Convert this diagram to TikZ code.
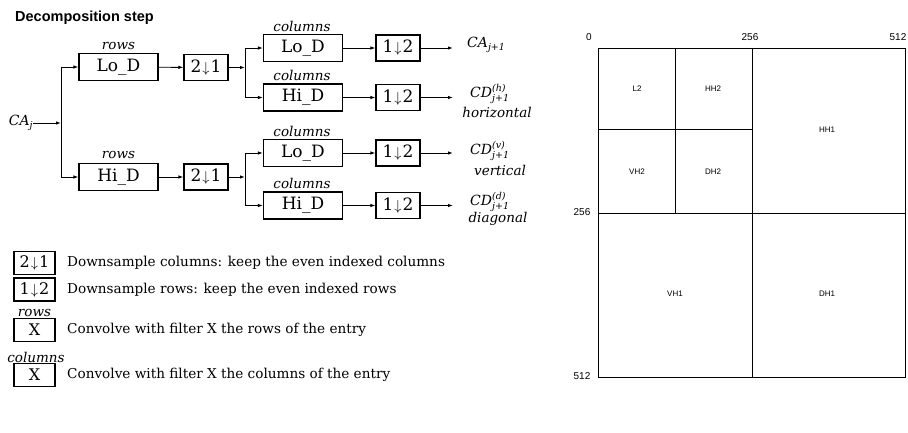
\documentclass[tikz,border=0pt]{standalone}
\usepackage{fontspec}
\setmainfont{DejaVu Serif}
\newfontfamily\arial{Liberation Sans}
\usetikzlibrary{arrows.meta}
\newcommand{\dn}[2]{#1\hspace{1pt}{\fontsize{15}{15}\selectfont$\downarrow$}\hspace{1pt}#2}
\newcommand{\smi}[1]{\mbox{\fontsize{9.5}{9.5}\selectfont\itshape #1}}
\newcommand{\outlab}[3]{#1$^{\smi{#2}}_{\smi{#3}}$}
\begin{document}
\begin{tikzpicture}[x=1pt,y=-1pt,
  box/.style={draw,line width=1.1pt,minimum width=79pt,minimum height=27pt,inner sep=0pt,font=\fontsize{17}{17}\selectfont},
  dbox/.style={draw,line width=1.1pt,minimum width=44pt,minimum height=26pt,inner sep=0pt,font=\fontsize{17}{17}\selectfont},
  lgbox/.style={draw,line width=1.1pt,minimum width=41pt,minimum height=23pt,inner sep=0pt,font=\fontsize{16}{16}\selectfont},
  lbl/.style={font=\fontsize{13.5}{13.5}\selectfont\itshape,inner sep=0pt},
  mlbl/.style={font=\fontsize{14}{14}\selectfont\itshape,inner sep=0pt},
  lgtxt/.style={font=\fontsize{13.6}{13.6}\selectfont,inner sep=0pt,anchor=west},
  arr/.style={-{Latex[length=5pt,width=3.5pt]},line width=0.9pt},
  ln/.style={line width=0.9pt},
  grid/.style={line width=0.8pt},
  ax/.style={font=\arial\fontsize{10}{10}\selectfont,inner sep=0pt},
  cell/.style={font=\arial\fontsize{8}{8}\selectfont,inner sep=0pt}
]
\useasboundingbox (0,0) rectangle (908,433);
% title
\node[font=\arial\bfseries\fontsize{14.5}{14.5}\selectfont,anchor=west,inner sep=0pt] (title) at (15,18) {Decomposition step};
% input
\node[mlbl] (caj) at (21,123) {\outlab{CA}{}{j}};
\coordinate (s0t) at (61,67);
\coordinate (s0m) at (61,123);
\coordinate (s0b) at (61,177);
% row filters
\node[box] (rlo) at (118.5,67) {Lo\_D};
\node[lbl] (rlol) at (118.5,46) {rows};
\node[box] (rhi) at (118.5,177) {Hi\_D};
\node[lbl] (rhil) at (118.5,155) {rows};
\node[dbox] (d1) at (206,67.5) {\dn{2}{1}};
\node[dbox] (d2) at (206,177) {\dn{2}{1}};
\coordinate (s1m) at (245,67.5);
\coordinate (s1t) at (245,48);
\coordinate (s1b) at (245,97.5);
\coordinate (s2m) at (245,177);
\coordinate (s2t) at (245,153);
\coordinate (s2b) at (245,205.5);
% column filters
\node[box] (c1) at (303,48) {Lo\_D};
\node[lbl] (c1l) at (302,26) {columns};
\node[box] (c2) at (303,97.5) {Hi\_D};
\node[lbl] (c2l) at (302,75) {columns};
\node[box] (c3) at (303,153) {Lo\_D};
\node[lbl] (c3l) at (302,131) {columns};
\node[box] (c4) at (303,205.5) {Hi\_D};
\node[lbl] (c4l) at (302,183) {columns};
\node[dbox] (e1) at (398,48) {\dn{1}{2}};
\node[dbox] (e2) at (398,97.5) {\dn{1}{2}};
\node[dbox] (e3) at (398,153) {\dn{1}{2}};
\node[dbox] (e4) at (398,205.5) {\dn{1}{2}};
\coordinate (o1) at (453,48);
\coordinate (o2) at (453,97.5);
\coordinate (o3) at (453,153);
\coordinate (o4) at (453,205.5);
% outputs
\node[mlbl,anchor=west] (out1) at (467,45) {\outlab{CA}{}{j+1}};
\node[mlbl,anchor=west] (out2) at (470,94) {\outlab{CD}{(h)}{j+1}};
\node[lbl] (out2t) at (497,113) {horizontal};
\node[mlbl,anchor=west] (out3) at (470,151) {\outlab{CD}{(v)}{j+1}};
\node[lbl] (out3t) at (500,170) {vertical};
\node[mlbl,anchor=west] (out4) at (470,202) {\outlab{CD}{(d)}{j+1}};
\node[lbl] (out4t) at (498,219) {diagonal};
% connectors
\draw[arr] (caj.east) -- (s0m);
\draw[ln] (s0t) -- (s0b);
\draw[arr] (s0t) -- (rlo.west);
\draw[arr] (s0b) -- (rhi.west);
\draw[arr] (rlo) -- (d1);
\draw[arr] (rhi) -- (d2);
\draw[arr] (d1.east) -- (s1m);
\draw[arr] (d2.east) -- (s2m);
\draw[ln] (s1t) -- (s1b);
\draw[ln] (s2t) -- (s2b);
\draw[arr] (s1t) -- (c1.west);
\draw[arr] (s1b) -- (c2.west);
\draw[arr] (s2t) -- (c3.west);
\draw[arr] (s2b) -- (c4.west);
\draw[arr] (c1) -- (e1);
\draw[arr] (c2) -- (e2);
\draw[arr] (c3) -- (e3);
\draw[arr] (c4) -- (e4);
\draw[arr] (e1.east) -- (o1);
\draw[arr] (e2.east) -- (o2);
\draw[arr] (e3.east) -- (o3);
\draw[arr] (e4.east) -- (o4);
% legend
\node[lgbox] (lg1) at (34.5,263) {\dn{2}{1}};
\node[lgtxt] (lg1t) at (67,263) {Downsample columns: keep the even indexed columns};
\node[lgbox] (lg2) at (34.5,289.5) {\dn{1}{2}};
\node[lgtxt] (lg2t) at (67,289.5) {Downsample rows: keep the even indexed rows};
\node[lbl] (lg3l) at (34.5,313) {rows};
\node[lgbox] (lg3) at (34.5,330) {X};
\node[lgtxt] (lg3t) at (67,330) {Convolve with filter X the rows of the entry};
\node[lbl] (lg4l) at (36,357) {columns};
\node[lgbox] (lg4) at (34.5,375) {X};
\node[lgtxt] (lg4t) at (67,375) {Convolve with filter X the columns of the entry};
% right: subband layout
\draw[grid] (598,48) rectangle (905,377);
\draw[grid] (752,48) -- (752,377);
\draw[grid] (598,213) -- (905,213);
\draw[grid] (675,48) -- (675,213);
\draw[grid] (598,129) -- (752,129);
\node[ax] (x0) at (589,37) {0};
\node[ax] (x256) at (750,37) {256};
\node[ax] (x512) at (898,37) {512};
\node[ax] (y256) at (582,212) {256};
\node[ax] (y512) at (582,376) {512};
\node[cell] (l2) at (637,89) {L2};
\node[cell] (hh2) at (713,89) {HH2};
\node[cell] (hh1) at (827,130) {HH1};
\node[cell] (vh2) at (637,172) {VH2};
\node[cell] (dh2) at (713,172) {DH2};
\node[cell] (vh1) at (675,294) {VH1};
\node[cell] (dh1) at (827,294) {DH1};
\end{tikzpicture}
\end{document}
